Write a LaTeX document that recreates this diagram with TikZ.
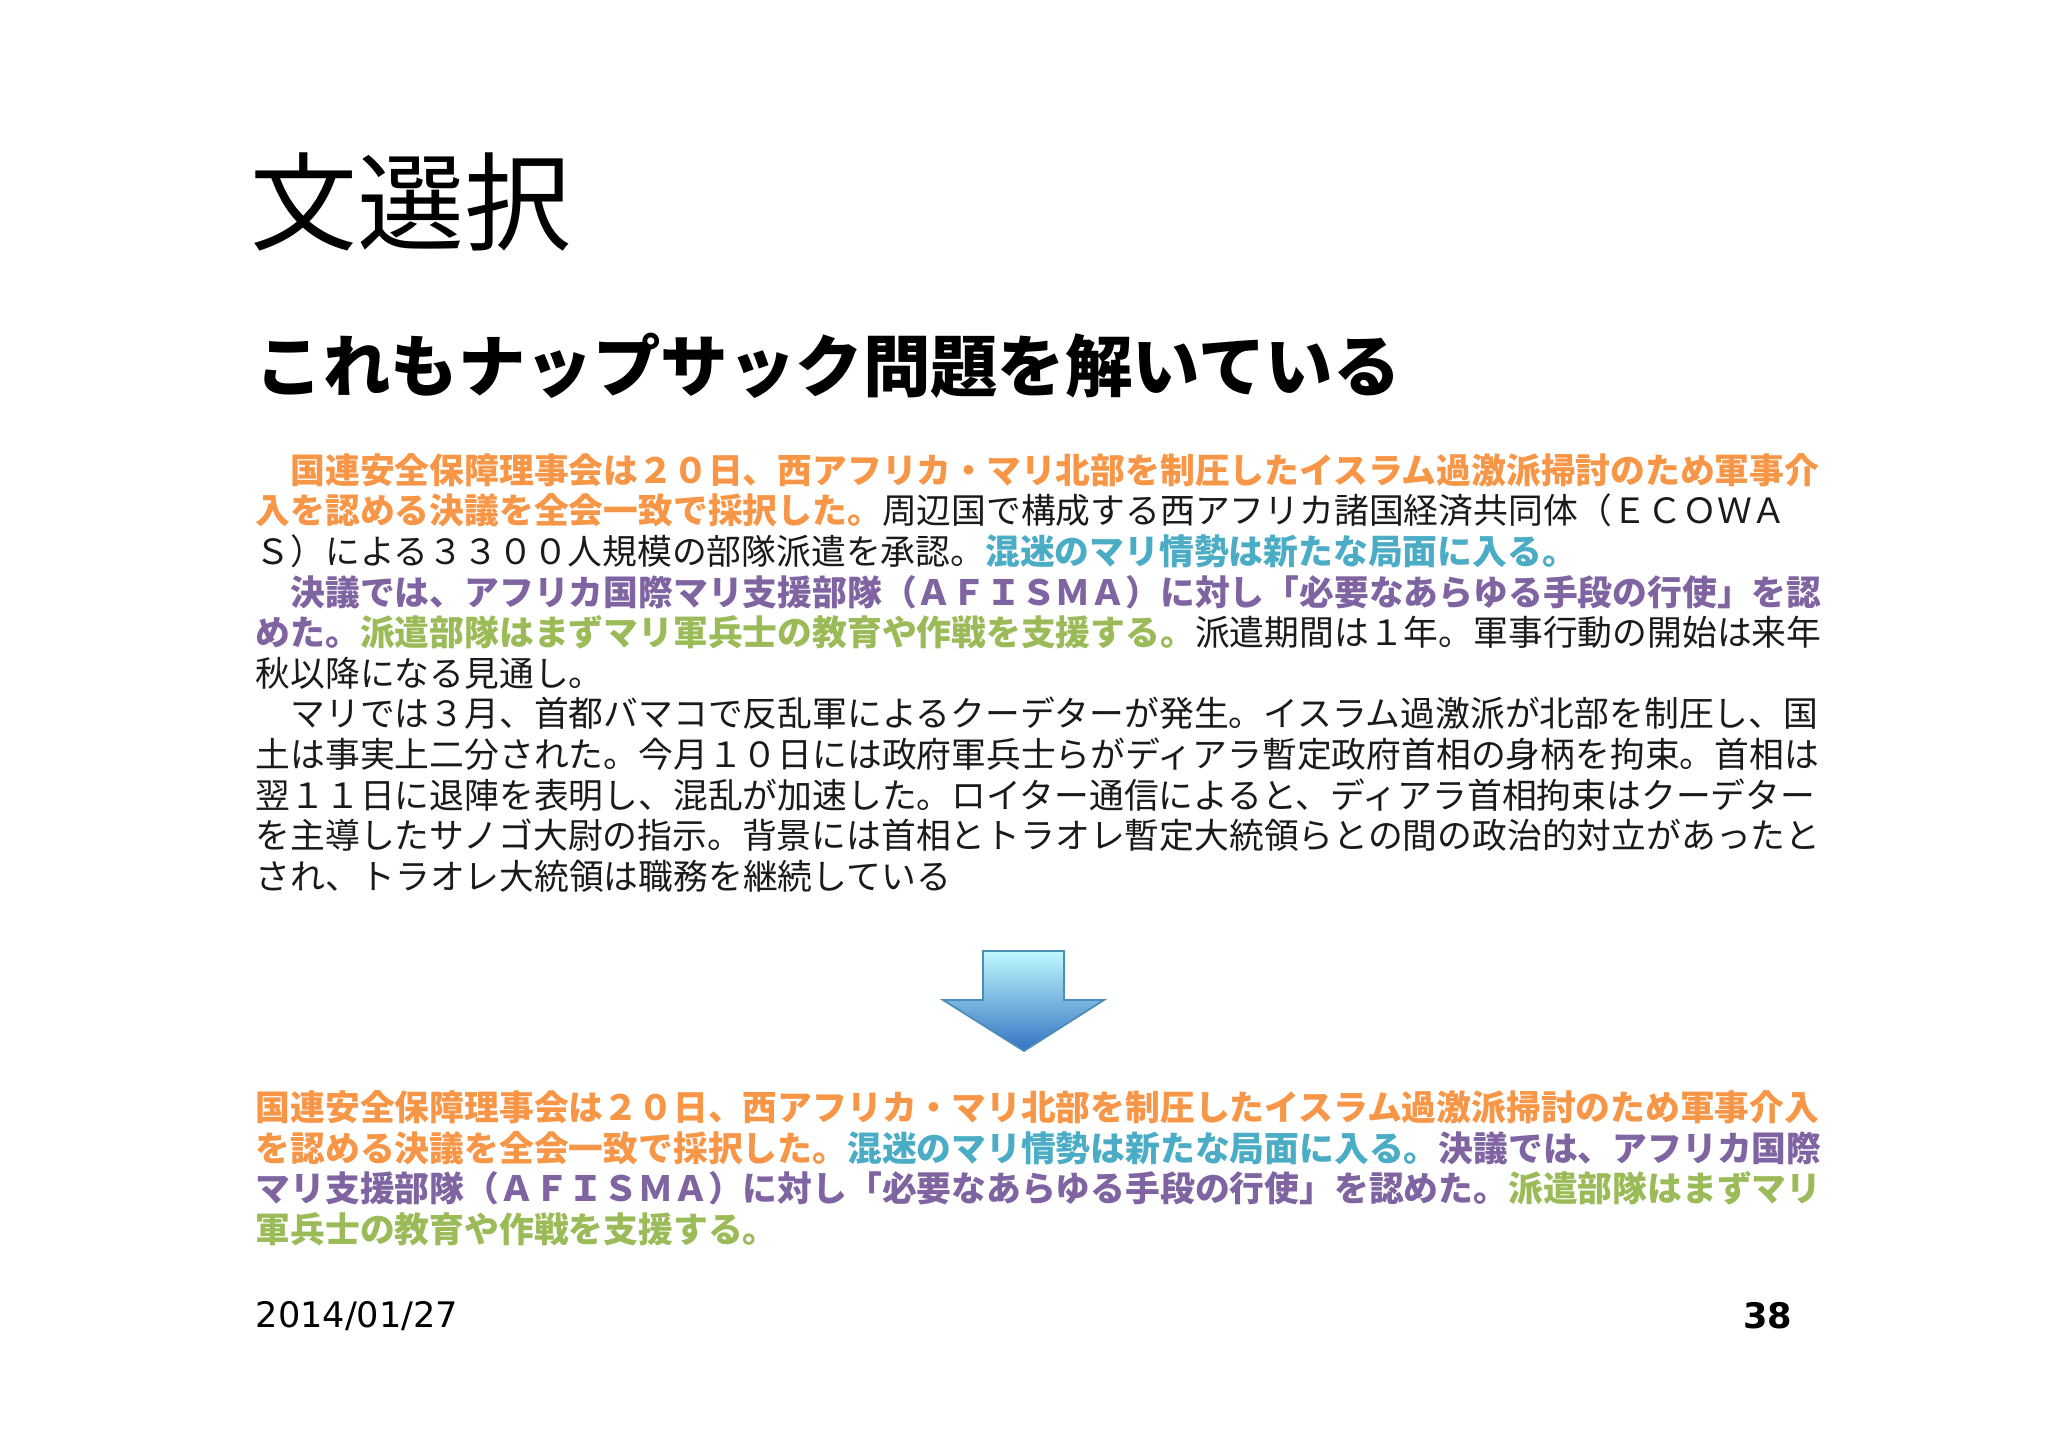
\documentclass[tikz,border=0pt]{standalone}
\usepackage{fontspec}
\newfontfamily\cjk{Noto Sans CJK JP}
\newfontfamily\lat{DejaVu Sans}
\definecolor{cor}{HTML}{F79646}
\definecolor{cte}{HTML}{4BACC6}
\definecolor{cpu}{HTML}{8064A2}
\definecolor{cgr}{HTML}{9BBB59}
\definecolor{ctx}{HTML}{1A1A1A}
\newcommand{\Or}[1]{\textcolor{cor}{\bfseries #1}}
\newcommand{\Te}[1]{\textcolor{cte}{\bfseries #1}}
\newcommand{\Pu}[1]{\textcolor{cpu}{\bfseries #1}}
\newcommand{\Gr}[1]{\textcolor{cgr}{\bfseries #1}}
\begin{document}
\begin{tikzpicture}[x=1cm,y=1cm,
  txt/.style={anchor=west,inner sep=0pt,font=\cjk\fontsize{9.9pt}{11pt}\selectfont,text=ctx}]
\useasboundingbox (0,0) rectangle (20.48,14.48);
\fill[white] (0,0) rectangle (20.48,14.48);
\node[anchor=west,inner sep=0pt,font=\cjk\fontsize{30.4pt}{32pt}\selectfont] (title) at (2.50,12.46) {文選択};
\node[anchor=west,inner sep=0pt,font=\cjk\bfseries\fontsize{19.2pt}{21pt}\selectfont] (sub) at (2.55,10.82) {これもナップサック問題を解いている};
\node[txt] (l1) at (2.55,9.78) {\Or{　国連安全保障理事会は２０日、西アフリカ・マリ北部を制圧したイスラム過激派掃討のため軍事介}};
\node[txt] (l2) at (2.55,9.374) {\Or{入を認める決議を全会一致で採択した。}周辺国で構成する西アフリカ諸国経済共同体（ＥＣＯＷＡ};
\node[txt] (l3) at (2.55,8.968) {Ｓ）による３３００人規模の部隊派遣を承認。\Te{混迷のマリ情勢は新たな局面に入る。}};
\node[txt] (l4) at (2.55,8.562) {\Pu{　決議では、アフリカ国際マリ支援部隊（ＡＦＩＳＭＡ）に対し「必要なあらゆる手段の行使」を認}};
\node[txt] (l5) at (2.55,8.156) {\Pu{めた。}\Gr{派遣部隊はまずマリ軍兵士の教育や作戦を支援する。}派遣期間は１年。軍事行動の開始は来年};
\node[txt] (l6) at (2.55,7.75) {秋以降になる見通し。};
\node[txt] (l7) at (2.55,7.344) {　マリでは３月、首都バマコで反乱軍によるクーデターが発生。イスラム過激派が北部を制圧し、国};
\node[txt] (l8) at (2.55,6.938) {土は事実上二分された。今月１０日には政府軍兵士らがディアラ暫定政府首相の身柄を拘束。首相は};
\node[txt] (l9) at (2.55,6.532) {翌１１日に退陣を表明し、混乱が加速した。ロイター通信によると、ディアラ首相拘束はクーデター};
\node[txt] (l10) at (2.55,6.126) {を主導したサノゴ大尉の指示。背景には首相とトラオレ暫定大統領らとの間の政治的対立があったと};
\node[txt] (l11) at (2.55,5.72) {され、トラオレ大統領は職務を継続している};
\shade[top color=blue!10!cyan!25,bottom color=blue!55!cyan!70!black!80,draw=blue!40!cyan!60!black!70,line width=0.5pt]
  (9.83,4.97) -- (10.64,4.97) -- (10.64,4.48) -- (11.04,4.48) -- (10.24,3.97) -- (9.43,4.48) -- (9.83,4.48) -- cycle;
\node[txt] (b1) at (2.55,3.405) {\Or{国連安全保障理事会は２０日、西アフリカ・マリ北部を制圧したイスラム過激派掃討のため軍事介入}};
\node[txt] (b2) at (2.55,2.999) {\Or{を認める決議を全会一致で採択した。}\Te{混迷のマリ情勢は新たな局面に入る。}\Pu{決議では、アフリカ国際}};
\node[txt] (b3) at (2.55,2.593) {\Pu{マリ支援部隊（ＡＦＩＳＭＡ）に対し「必要なあらゆる手段の行使」を認めた。}\Gr{派遣部隊はまずマリ}};
\node[txt] (b4) at (2.55,2.187) {\Gr{軍兵士の教育や作戦を支援する。}};
\node[anchor=west,inner sep=0pt,font=\lat\fontsize{10pt}{12pt}\selectfont] (date) at (2.55,1.32) {2014/01/27};
\node[anchor=east,inner sep=0pt,font=\lat\bfseries\fontsize{10pt}{12pt}\selectfont] (pg) at (17.93,1.32) {38};
\end{tikzpicture}
\end{document}
